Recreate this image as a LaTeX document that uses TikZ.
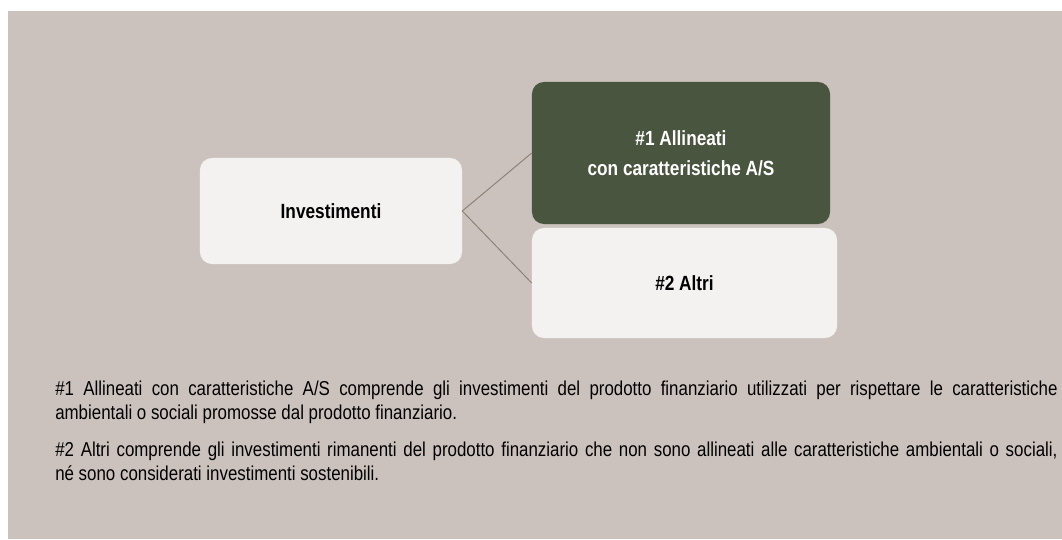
\documentclass[tikz,border=0pt]{standalone}
\usepackage{fontspec}
\setmainfont{Liberation Sans}[FakeStretch=0.84]
\usepackage{tikz}
\usetikzlibrary{positioning,calc}
\usepackage{xcolor}
\definecolor{sand}{HTML}{CCC2BD}
\definecolor{paper}{HTML}{F3F2F0}
\definecolor{moss}{HTML}{4A5540}
\definecolor{twig}{HTML}{8E8178}
\tikzset{
  box/.style={rounded corners=0.3cm, fill=paper, align=center, inner sep=0pt, font=\fontsize{14.6}{21.3}\selectfont\bfseries},
  lightbox/.style={box, text=black},
  mossbox/.style={box, fill=moss, text=white},
  link/.style={draw=twig, line width=0.7pt},
  note/.style={anchor=north west, inner sep=0pt, text width=25.05cm, align=justify, font=\fontsize{14.3}{17}\selectfont}
}

\begin{document}
\begin{tikzpicture}[x=0.025cm, y=-0.025cm]
  \useasboundingbox (0,0) rectangle (1062,539);
  \fill[sand] (8,11) rectangle (1062,539);
  \node[lightbox, minimum width=6.55cm, minimum height=2.65cm] (invest) at (331,211) {Investimenti};
  \node[mossbox, minimum width=7.45cm, minimum height=3.55cm] (aligned) at (681,153) {\#1 Allineati\\con caratteristiche A/S};
  \node[lightbox, minimum width=7.625cm, minimum height=2.75cm] (others) at (684.5,283) {\#2 Altri};
  \draw[link] (aligned.west) -- (invest.east) -- (others.west);
  \node[note] (note1) at (55,381) {\#1 Allineati con caratteristiche A/S comprende gli investimenti del prodotto finanziario utilizzati per rispettare le caratteristiche\linebreak ambientali o sociali promosse dal prodotto finanziario.};
  \node[note] (note2) at (55,442) {\#2 Altri comprende gli investimenti rimanenti del prodotto finanziario che non sono allineati alle caratteristiche ambientali o sociali,\linebreak né sono considerati investimenti sostenibili.};
\end{tikzpicture}
\end{document}
